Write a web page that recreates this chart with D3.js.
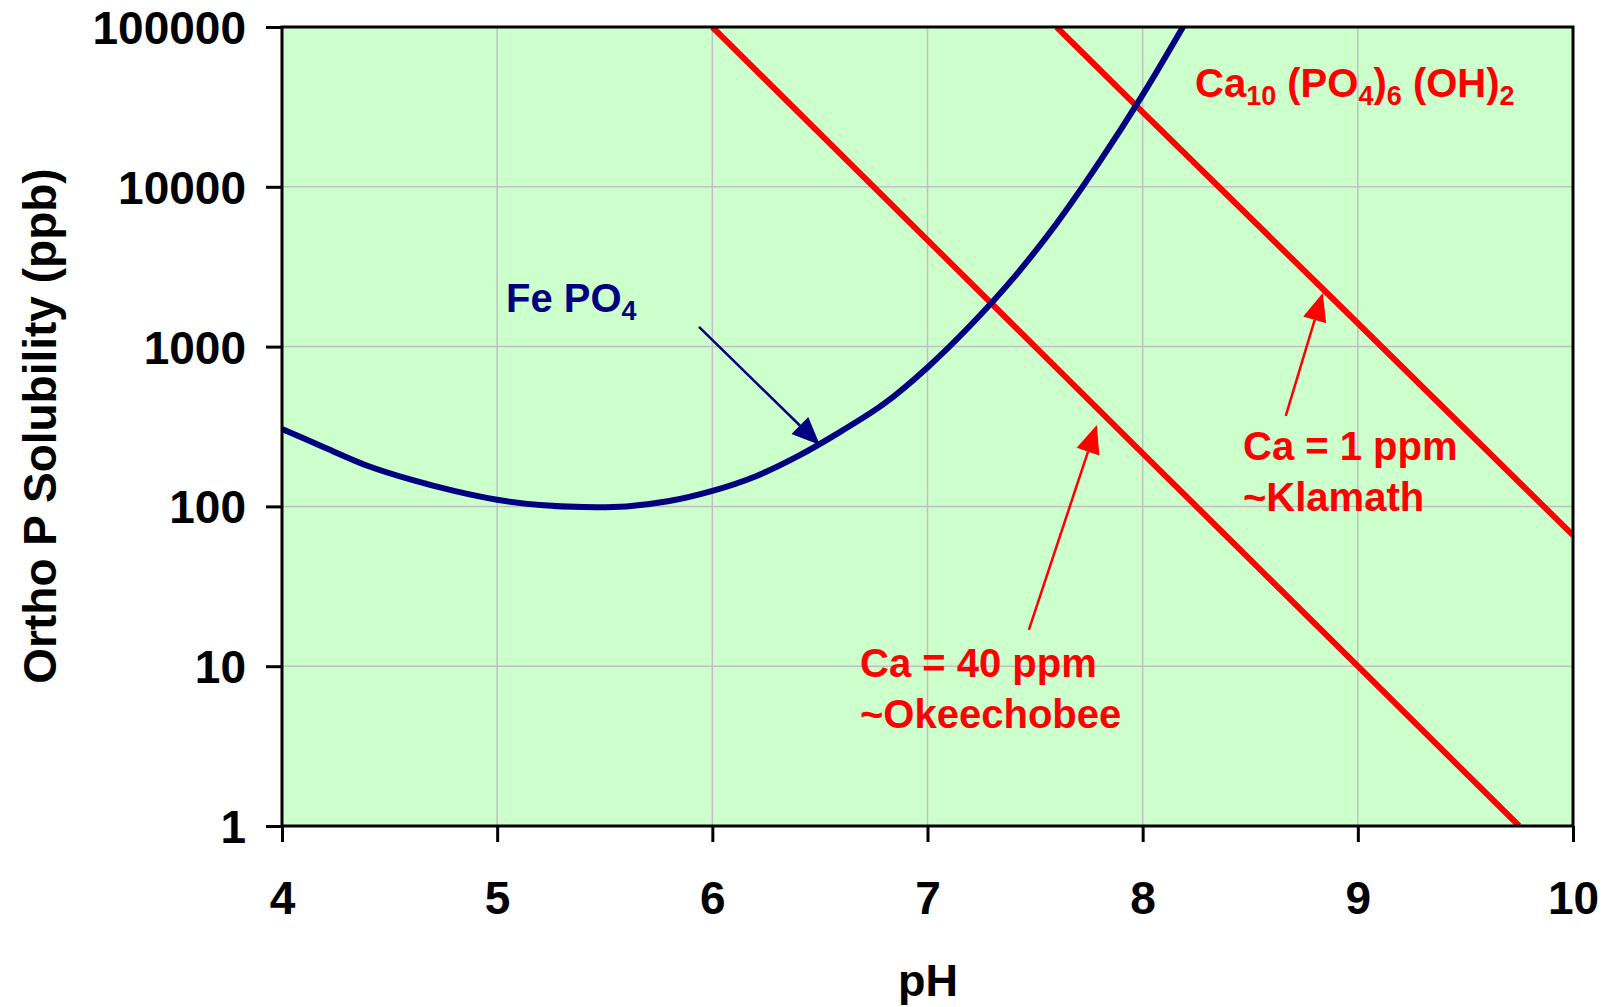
<!DOCTYPE html>
<html><head><meta charset="utf-8">
<script src="https://cdn.jsdelivr.net/npm/d3@7"></script>
<style>body{margin:0;background:#fff}text{font-family:"Liberation Sans",Arial,sans-serif;font-weight:bold}</style>
</head><body>
<svg id="c" width="1613" height="1007"></svg>
<script>
// Data
const xTicks = [4,5,6,7,8,9,10];
const yTicks = [1,10,100,1000,10000,100000];
const fePH  = [4.0,4.2,4.4,4.6,4.8,5.0,5.2,5.4,5.6,5.8,6.0,6.2,6.4,6.6,6.8,7.0,7.2,7.4,7.6,7.8,8.0,8.2];
const feVal = [305,233,179,147,125,110,102,99,100,108,125,154,207,296,441,741,1360,2690,5900,14360,37600,107000];
const ca40PH  = [6.0,7,8,9,9.75];
const ca40Val = [100000,4640,215,10,1];
const ca1PH  = [7.6,8,9,10];
const ca1Val = [100000,29300,1400,66];
// annotations: [fromPH, fromVal, toPH, toVal]
const feArrow   = [5.938,1327,6.50,242];
const ca40Arrow = [7.471,16.9,7.787,323];
const ca1Arrow  = [8.665,368,8.837,2164];

const L=282,R=1573,T=27,B=826;
const svg=d3.select("#c");
const x=d3.scaleLinear().domain([4,10]).range([L,R]);
const y=d3.scaleLog().domain([1,100000]).range([B,T]);

svg.append("rect").attr("x",L).attr("y",T).attr("width",R-L).attr("height",B-T).attr("fill","#CCFFCC");
// grid
svg.append("g").selectAll("line").data(xTicks.slice(1,-1)).join("line")
 .attr("x1",d=>x(d)).attr("x2",d=>x(d)).attr("y1",T).attr("y2",B).attr("stroke","#C0C0C0").attr("stroke-width",1.5);
svg.append("g").selectAll("line").data(yTicks.slice(1,-1)).join("line")
 .attr("y1",d=>y(d)).attr("y2",d=>y(d)).attr("x1",L).attr("x2",R).attr("stroke","#C0C0C0").attr("stroke-width",1.5);

svg.append("defs").append("clipPath").attr("id","clip").append("rect").attr("x",L).attr("y",T).attr("width",R-L).attr("height",B-T);
const line=d3.line().x(d=>x(d[0])).y(d=>y(d[1]));
const g=svg.append("g").attr("clip-path","url(#clip)");
g.append("path").datum(ca40PH.map((p,i)=>[p,ca40Val[i]])).attr("d",line).attr("fill","none").attr("stroke","#FF0000").attr("stroke-width",6);
g.append("path").datum(ca1PH.map((p,i)=>[p,ca1Val[i]])).attr("d",line).attr("fill","none").attr("stroke","#FF0000").attr("stroke-width",6);
g.append("path").datum(fePH.map((p,i)=>[p,feVal[i]])).attr("d",line.curve(d3.curveCatmullRom)).attr("fill","none").attr("stroke","#000080").attr("stroke-width",6).attr("stroke-linejoin","round");

// border
svg.append("rect").attr("x",L).attr("y",T).attr("width",R-L).attr("height",B-T).attr("fill","none").attr("stroke","#000").attr("stroke-width",3);

// axes
const xa=svg.append("g").attr("transform",`translate(0,${B})`).call(d3.axisBottom(x).tickValues(xTicks).tickSize(16).tickFormat(d3.format("d")));
const ya=svg.append("g").attr("transform",`translate(${L},0)`).call(d3.axisLeft(y).tickValues(yTicks).tickSize(16).tickFormat(d3.format("d")));
[xa,ya].forEach(a=>{a.select(".domain").remove();a.selectAll(".tick line").attr("stroke","#000").attr("stroke-width",3);
 a.selectAll("text").attr("font-size",46).attr("fill","#000").attr("font-family","Liberation Sans, Arial, sans-serif").attr("font-weight","bold");});
xa.selectAll("text").attr("y",0).attr("dy",null).attr("transform","translate(0,88)");
ya.selectAll("text").attr("x",-36).attr("dy","0.36em");

svg.append("text").attr("x",928).attr("y",996).attr("text-anchor","middle").attr("font-size",45).text("pH");
svg.append("text").attr("transform","translate(56,426) rotate(-90)").attr("text-anchor","middle").attr("font-size",46).text("Ortho P Solubility (ppb)");

// arrows
function arrow(a,color,w,hl,hw){
  const x1=x(a[0]),y1=y(a[1]),x2=x(a[2]),y2=y(a[3]);
  const ang=Math.atan2(y2-y1,x2-x1),c=Math.cos(ang),s=Math.sin(ang);
  const bx=x2-hl*c,by=y2-hl*s;
  svg.append("line").attr("x1",x1).attr("y1",y1).attr("x2",bx).attr("y2",by).attr("stroke",color).attr("stroke-width",w);
  svg.append("path").attr("d",`M${x2},${y2}L${bx+hw*s},${by-hw*c}L${bx-hw*s},${by+hw*c}Z`).attr("fill",color);
}
arrow(feArrow,"#000080",2.5,28,12);
arrow(ca40Arrow,"#FF0000",2.5,28,12);
arrow(ca1Arrow,"#FF0000",2.5,28,12);

// labels
const fe=svg.append("text").attr("x",506).attr("y",312).attr("fill","#000080").attr("font-size",40);
fe.append("tspan").text("Fe PO");fe.append("tspan").text("4").attr("font-size",27).attr("dy",8);
const ca=svg.append("text").attr("x",1195).attr("y",97).attr("fill","#FF0000").attr("font-size",40);
ca.append("tspan").text("Ca");
ca.append("tspan").text("10").attr("font-size",27).attr("dy",8);
ca.append("tspan").text(" (PO").attr("dy",-8);
ca.append("tspan").text("4").attr("font-size",27).attr("dy",8);
ca.append("tspan").text(")").attr("dy",-8);
ca.append("tspan").text("6").attr("font-size",27).attr("dy",8);
ca.append("tspan").text(" (OH)").attr("dy",-8);
ca.append("tspan").text("2").attr("font-size",27).attr("dy",8);

svg.append("text").attr("x",1243).attr("y",460).attr("fill","#FF0000").attr("font-size",40).text("Ca = 1 ppm");
svg.append("text").attr("x",1243).attr("y",511).attr("fill","#FF0000").attr("font-size",40).text("~Klamath");
svg.append("text").attr("x",860).attr("y",677).attr("fill","#FF0000").attr("font-size",40).text("Ca = 40 ppm");
svg.append("text").attr("x",860).attr("y",728).attr("fill","#FF0000").attr("font-size",40).text("~Okeechobee");
</script>
</body></html>
